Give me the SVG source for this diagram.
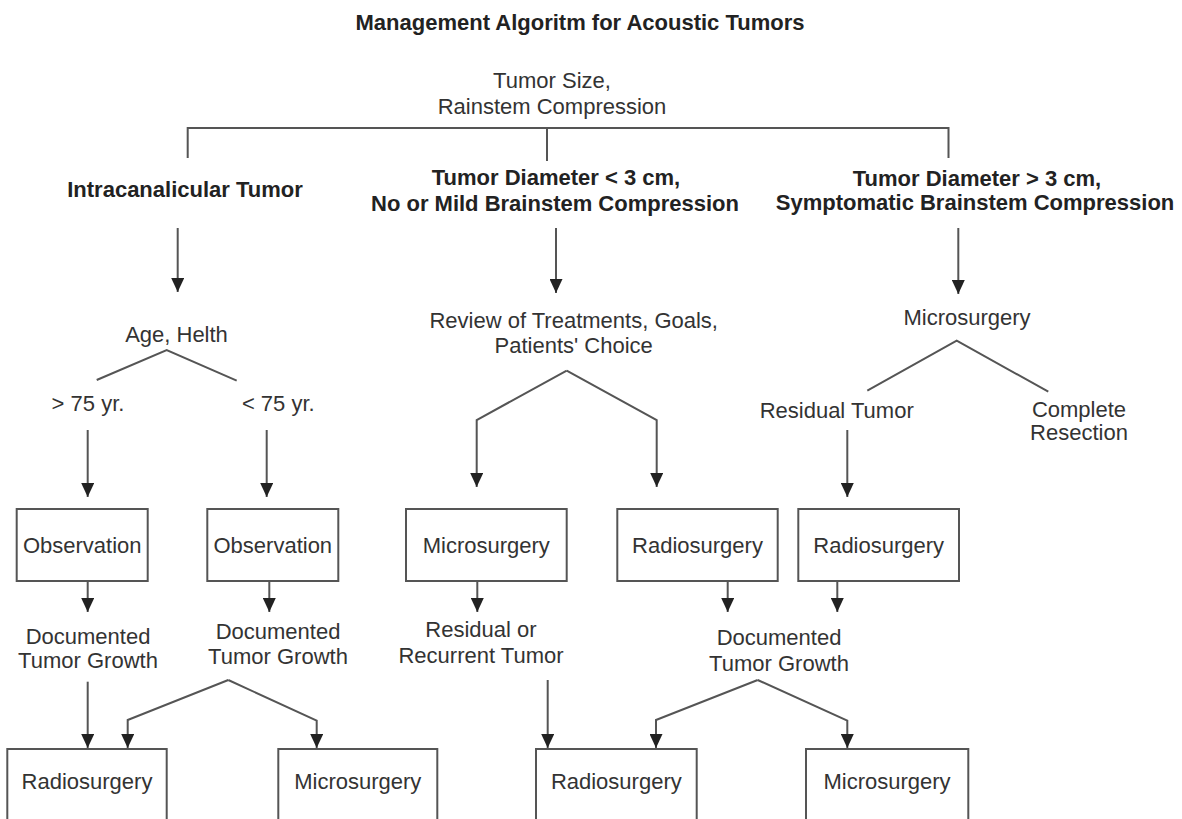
<svg xmlns="http://www.w3.org/2000/svg" width="1182" height="819" viewBox="0 0 1182 819">
<defs>
<style>
.t{font-family:"Liberation Sans",Arial,Helvetica,sans-serif;font-size:22px;fill:#333;text-anchor:middle}
.b{font-weight:bold;fill:#222}
.box{fill:#fff;stroke:#555;stroke-width:2}
.ln{fill:none;stroke:#555;stroke-width:2}
.ar{marker-end:url(#ah)}
</style>
<marker id="ah" viewBox="0 0 14 13" refX="14" refY="6.5" markerWidth="14" markerHeight="13" markerUnits="userSpaceOnUse" orient="auto">
<path d="M0,0 L14,6.5 L0,13 z" fill="#222"/>
</marker>
</defs>
<rect width="1182" height="819" fill="#fff"/>

<g id="connectors">
<path class="ln" d="M187.7,158 V128 H948.5 V158"/>
<path class="ln" d="M547,128 V161"/>
<path class="ln ar" d="M177.7,228 V292"/>
<path class="ln ar" d="M556,228 V293"/>
<path class="ln ar" d="M958.3,228 V294"/>
<path class="ln" d="M96.7,380 L166.7,350 L236.7,380.7"/>
<path class="ln ar" d="M87.7,430 V497"/>
<path class="ln ar" d="M266.7,430 V497"/>
<path class="ln ar" d="M566.7,370.7 L476.7,420 V487"/>
<path class="ln ar" d="M566.7,370.7 L656.7,420 V487"/>
<path class="ln" d="M867.3,390.7 L956.7,340.7 L1048.3,391.7"/>
<path class="ln ar" d="M847.3,430 V497"/>
<path class="ln ar" d="M87.7,581 V612"/>
<path class="ln ar" d="M269.3,581 V612"/>
<path class="ln ar" d="M477.3,581 V612"/>
<path class="ln ar" d="M727.7,581 V612"/>
<path class="ln ar" d="M837.3,581 V612"/>
<path class="ln ar" d="M87.7,681.7 V748"/>
<path class="ln ar" d="M228.3,680 L127.7,720 V748"/>
<path class="ln ar" d="M228.3,680 L316.7,720.7 V748"/>
<path class="ln ar" d="M547.7,680 V748"/>
<path class="ln ar" d="M757.7,680 L656,720 V748"/>
<path class="ln ar" d="M757.7,680 L847.3,720.7 V748"/>
</g>

<g id="title"><text class="t b" x="580" y="30">Management Algoritm for Acoustic Tumors</text></g>
<g id="tumor-size"><text class="t" x="552" y="87.5">Tumor Size,</text><text class="t" x="552" y="113.5">Rainstem Compression</text></g>
<g id="intracanalicular"><text class="t b" x="185" y="197">Intracanalicular Tumor</text></g>
<g id="diameter-lt3"><text class="t b" x="556" y="185">Tumor Diameter &lt; 3 cm,</text><text class="t b" x="555" y="211">No or Mild Brainstem Compression</text></g>
<g id="diameter-gt3"><text class="t b" x="977" y="186">Tumor Diameter &gt; 3 cm,</text><text class="t b" x="975" y="210">Symptomatic Brainstem Compression</text></g>

<g id="age-health"><text class="t" x="176.5" y="341.5">Age, Helth</text></g>
<g id="gt75"><text class="t" x="88" y="411">&gt; 75 yr.</text></g>
<g id="lt75"><text class="t" x="278.3" y="411">&lt; 75 yr.</text></g>
<g id="review"><text class="t" x="573.7" y="328.3">Review of Treatments, Goals,</text><text class="t" x="573.7" y="353.3">Patients' Choice</text></g>
<g id="microsurgery-r"><text class="t" x="967" y="325">Microsurgery</text></g>
<g id="residual-tumor"><text class="t" x="836.7" y="418">Residual Tumor</text></g>
<g id="complete-resection"><text class="t" x="1079" y="417">Complete</text><text class="t" x="1079" y="440">Resection</text></g>

<g id="obs1"><rect class="box" x="16.7" y="509" width="131" height="72"/><text class="t" x="82.2" y="552.5">Observation</text></g>
<g id="obs2"><rect class="box" x="207.3" y="509" width="131" height="72"/><text class="t" x="272.8" y="552.5">Observation</text></g>
<g id="micro-mid"><rect class="box" x="406" y="509" width="160.7" height="72"/><text class="t" x="486.3" y="552.5">Microsurgery</text></g>
<g id="radio-mid"><rect class="box" x="617.3" y="509" width="160.4" height="72"/><text class="t" x="697.5" y="552.5">Radiosurgery</text></g>
<g id="radio-right"><rect class="box" x="798.3" y="509" width="160.7" height="72"/><text class="t" x="878.7" y="552.5">Radiosurgery</text></g>

<g id="doc1"><text class="t" x="88" y="644">Documented</text><text class="t" x="88" y="668">Tumor Growth</text></g>
<g id="doc2"><text class="t" x="278" y="638.5">Documented</text><text class="t" x="278" y="663.5">Tumor Growth</text></g>
<g id="residual-recurrent"><text class="t" x="481" y="637">Residual or</text><text class="t" x="481" y="663">Recurrent Tumor</text></g>
<g id="doc3"><text class="t" x="779" y="645">Documented</text><text class="t" x="779" y="670.5">Tumor Growth</text></g>

<g id="radio-b1"><rect class="box" x="7.3" y="749" width="159.4" height="100"/><text class="t" x="87" y="789">Radiosurgery</text></g>
<g id="micro-b1"><rect class="box" x="278.3" y="749" width="159" height="100"/><text class="t" x="357.8" y="789">Microsurgery</text></g>
<g id="radio-b2"><rect class="box" x="536" y="749" width="160.7" height="100"/><text class="t" x="616.3" y="789">Radiosurgery</text></g>
<g id="micro-b2"><rect class="box" x="806" y="749" width="162.3" height="100"/><text class="t" x="887" y="789">Microsurgery</text></g>
</svg>
